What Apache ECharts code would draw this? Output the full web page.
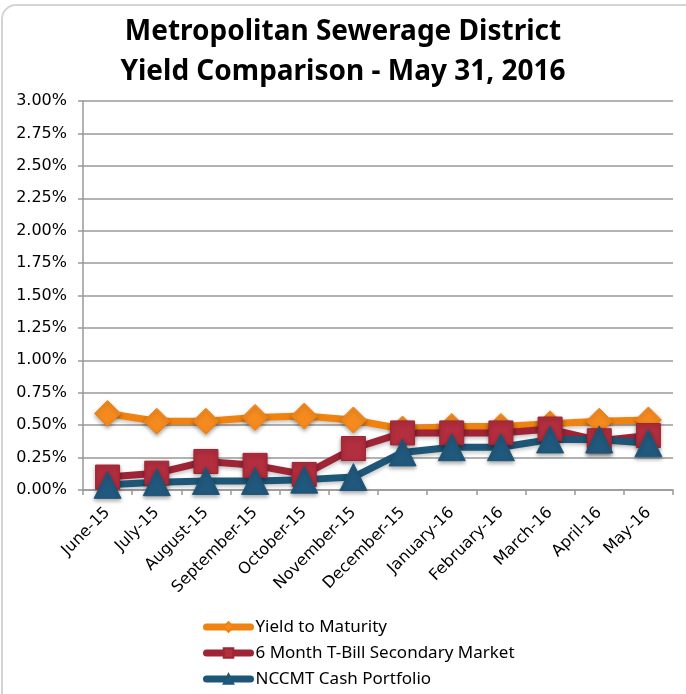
<!DOCTYPE html>
<html><head><meta charset="utf-8">
<script src="https://cdn.jsdelivr.net/npm/echarts@6/dist/echarts.min.js"></script>
<style>html,body{margin:0;padding:0;background:#fff}#c{width:686px;height:694px}</style>
</head><body><div id="c"></div>
<script>
const categories = ['June-15','July-15','August-15','September-15','October-15','November-15','December-15','January-16','February-16','March-16','April-16','May-16'];
const yieldToMaturity = [0.59,0.53,0.53,0.56,0.57,0.54,0.47,0.49,0.49,0.51,0.53,0.54];
const tBill6Month = [0.10,0.13,0.22,0.19,0.12,0.32,0.44,0.44,0.44,0.47,0.38,0.42];
const nccmtCash = [0.04,0.06,0.07,0.07,0.08,0.10,0.29,0.33,0.33,0.39,0.39,0.36];
const yTicks = [0,0.25,0.5,0.75,1,1.25,1.5,1.75,2,2.25,2.5,2.75,3];

const chart = echarts.init(document.getElementById('c'));
const font = 'Noto Sans';
function mk(name, data, color, mcolor, symbol, size){
  return {name, type:'line', data, symbol, symbolSize:size, z: 2,
    lineStyle:{color, width:7, shadowColor:'rgba(0,0,0,0.25)', shadowBlur:4, shadowOffsetY:2},
    itemStyle:{color:mcolor, borderColor:color, borderWidth:1, shadowColor:'rgba(0,0,0,0.35)', shadowBlur:4, shadowOffsetY:2},
    emphasis:{disabled:true}, animation:false};
}
chart.setOption({
  animation:false,
  graphic:[{type:'rect', shape:{x:2,y:5,width:700,height:720,r:14}, style:{fill:'none', stroke:'#d4d4d4', lineWidth:2}, z:-1}],
  title:{text:'Metropolitan Sewerage District\nYield Comparison - May 31, 2016', left:'center', top:7,
    textStyle:{fontFamily:font, fontSize:28, fontWeight:'bold', color:'#000', lineHeight:40}},
  legend:{orient:'vertical', left:203, top:617, padding:0, itemGap:6, itemWidth:44, itemHeight:12,
    lineStyle:{width:7, cap:'round'},
    textStyle:{fontFamily:font, fontSize:17, color:'#000', lineHeight:20},
    data:['Yield to Maturity','6 Month T-Bill Secondary Market','NCCMT Cash Portfolio']},
  grid:{left:83, right:13, top:101, bottom:204},
  xAxis:{type:'category', data:categories, boundaryGap:true,
    axisLine:{lineStyle:{color:'#999', width:1.5}},
    axisTick:{show:true, length:5, lineStyle:{color:'#999', width:1.5}},
    axisLabel:{rotate:45, interval:0, fontFamily:'DejaVu Sans', fontSize:16, color:'#000', margin:20}},
  yAxis:{type:'value', min:0, max:3, interval:0.25,
    axisLine:{show:true, lineStyle:{color:'#999', width:1.5}},
    axisTick:{show:true, length:5, lineStyle:{color:'#999', width:1.5}},
    splitLine:{lineStyle:{color:'#999', width:1.5}},
    axisLabel:{fontFamily:'DejaVu Sans', fontSize:16, color:'#000', margin:16, formatter:v=>v.toFixed(2)+'%'}},
  series:[
    mk('Yield to Maturity', yieldToMaturity, '#F0820F', '#F58A1F', 'diamond', 26),
    mk('6 Month T-Bill Secondary Market', tBill6Month, '#9E2536', '#B32E3E', 'rect', 24),
    mk('NCCMT Cash Portfolio', nccmtCash, '#1E5677', '#21597E', 'triangle', 27)
  ]
});
</script></body></html>
